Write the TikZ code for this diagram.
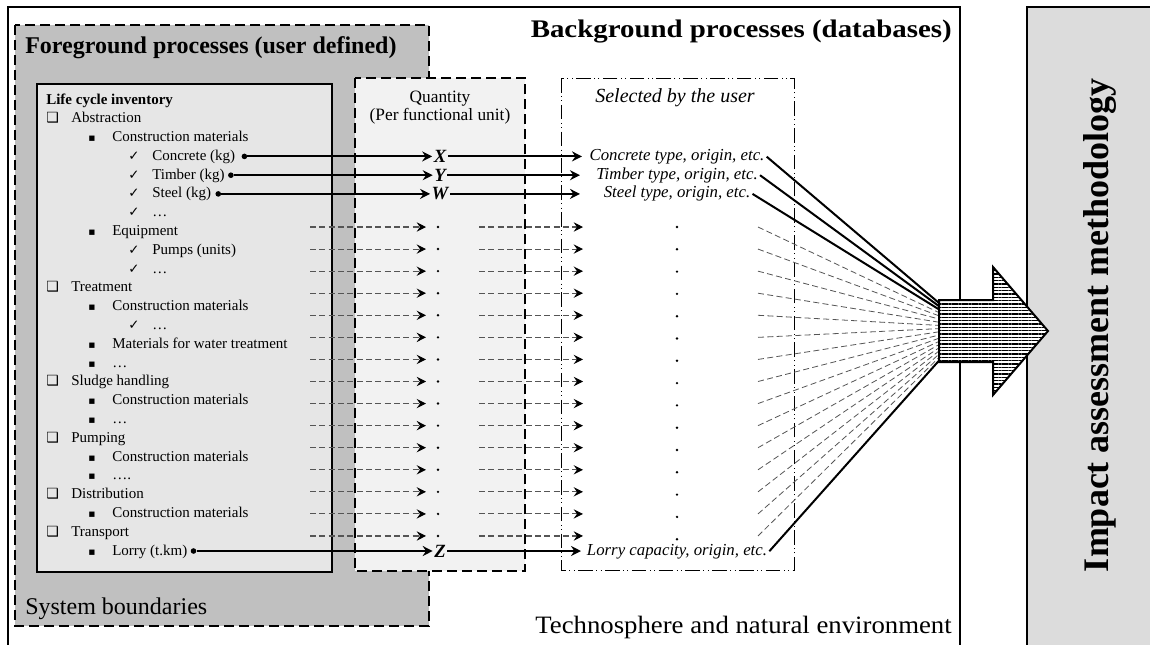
\documentclass[tikz,border=0pt]{standalone}
\usepackage{fontspec}
\usepackage{graphicx}
\setmainfont{Liberation Serif}
\newfontfamily\symf{DejaVu Sans}
\usetikzlibrary{arrows.meta,patterns.meta,calc}
\definecolor{fggray}{HTML}{C0C0C0}
\definecolor{invgray}{HTML}{E6E6E6}
\definecolor{qgray}{HTML}{F2F2F2}
\definecolor{iagray}{HTML}{DCDCDC}
\definecolor{dgray}{HTML}{555555}
\tikzset{
  li/.style={anchor=base west, inner sep=0pt, font=\fontsize{11.25}{13}\selectfont},
  sysq/.style={anchor=base west, inner sep=0pt, font=\symf\fontsize{10.5}{12}\selectfont},
  sybl/.style={anchor=base west, inner sep=0pt, font=\symf\fontsize{8}{10}\selectfont},
  sychk/.style={anchor=base west, inner sep=0pt, font=\symf\fontsize{10}{12}\selectfont},
  bigdot/.style={circle, fill=black, inner sep=0pt, minimum size=4.2pt},
  smalldot/.style={circle, fill=black, inner sep=0pt, minimum size=2pt},
  qvar/.style={font=\bfseries\itshape\fontsize{14}{16}\selectfont, inner sep=1pt},
  seltext/.style={anchor=base, font=\itshape\fontsize{12.6}{14}\selectfont, inner sep=1.5pt},
  solidarr/.style={line width=1.5pt, -{Stealth[length=7.5pt,width=7.5pt,inset=2.5pt]}},
  dasharr/.style={draw=dgray, line width=0.8pt, dash pattern=on 4.5pt off 2.5pt, -{Stealth[length=7pt,width=7pt,inset=2.5pt,color=black]}},
  fansolid/.style={line width=1.5pt},
  fandash/.style={draw=dgray, line width=0.6pt, dash pattern=on 4.5pt off 2.5pt},
  bigdash/.style={line width=1.5pt, dash pattern=on 7.5pt off 3.75pt},
  dashdotdot/.style={line width=0.75pt, dash pattern=on 11pt off 2.5pt on 0.8pt off 2.5pt on 0.8pt off 2.5pt},
}
\begin{document}
\begin{tikzpicture}[x=0.75pt,y=-0.75pt]
\useasboundingbox (0,0) rectangle (1150,644);
\clip (0,0) rectangle (1150,644);
\fill[white] (0,0) rectangle (1150,644);

% outer technosphere box
\draw[line width=1.5pt] (8,7) rectangle (960,690);
% impact assessment box
\fill[iagray] (1027,7) rectangle (1200,700);
\draw[line width=1.5pt] (1200,7) -- (1027,7) -- (1027,700);

% foreground box
\draw[bigdash, fill=fggray] (15,25) rectangle (429,626);
% inventory box
\draw[line width=1.1pt, fill=invgray] (37,84) rectangle (332,572);
% quantity box
\draw[bigdash, fill=qgray] (355,78) rectangle (525,571);
% selected box
\draw[dashdotdot] (561,78) rectangle (794,570);

% titles
\node[anchor=base west, inner sep=0pt, font=\bfseries\fontsize{18}{20}\selectfont] (fgt) at (25,53) {Foreground processes (user defined)};
\node[anchor=base east, inner sep=0pt, font=\bfseries\fontsize{19}{20}\selectfont] (bgt) at (952,37) {\scalebox{1.14}[1]{Background processes (databases)}};
\node[anchor=base west, inner sep=0pt, font=\fontsize{18}{20}\selectfont] (sbt) at (25,614) {System boundaries};
\node[anchor=base east, inner sep=0pt, font=\fontsize{18.75}{20}\selectfont] (tnt) at (952,633) {\scalebox{1.07}[1]{Technosphere and natural environment}};
\node[rotate=90, inner sep=0pt, font=\bfseries\fontsize{27}{30}\selectfont] (iat) at (1100,325) {Impact assessment methodology};
\node[anchor=base, inner sep=0pt, font=\fontsize{13}{14}\selectfont] (qt1) at (440,102) {Quantity};
\node[anchor=base, inner sep=0pt, font=\fontsize{13}{14}\selectfont] (qt2) at (440,120) {(Per functional unit)};
\node[anchor=base, inner sep=0pt, font=\itshape\fontsize{15}{16}\selectfont] (st) at (675,102) {Selected by the user};

% inventory list
\node[li, font=\bfseries\fontsize{11.25}{13}\selectfont] (l1) at (46,104) {Life cycle inventory};
\node[sysq] (s2) at (46,122.8) {❑}; \node[li] (l2) at (71,122.8) {Abstraction};
\node[sybl] (s3) at (88,141.6) {▪}; \node[li] (l3) at (112,141.6) {Construction materials};
\node[sychk] (s4) at (128,160.4) {✓}; \node[li] (l4) at (152,160.4) {Concrete (kg)};
\node[sychk] (s5) at (128,179.2) {✓}; \node[li] (l5) at (152,179.2) {Timber (kg)};
\node[sychk] (s6) at (128,197.9) {✓}; \node[li] (l6) at (152,197.9) {Steel (kg)};
\node[sychk] (s7) at (128,216.7) {✓}; \node[li] (l7) at (152,216.7) {…};
\node[sybl] (s8) at (88,235.5) {▪}; \node[li] (l8) at (112,235.5) {Equipment};
\node[sychk] (s9) at (128,254.3) {✓}; \node[li] (l9) at (152,254.3) {Pumps (units)};
\node[sychk] (s10) at (128,273.1) {✓}; \node[li] (l10) at (152,273.1) {…};
\node[sysq] (s11) at (46,291.9) {❑}; \node[li] (l11) at (71,291.9) {Treatment};
\node[sybl] (s12) at (88,310.7) {▪}; \node[li] (l12) at (112,310.7) {Construction materials};
\node[sychk] (s13) at (128,329.5) {✓}; \node[li] (l13) at (152,329.5) {…};
\node[sybl] (s14) at (88,348.3) {▪}; \node[li] (l14) at (112,348.3) {Materials for water treatment};
\node[sybl] (s15) at (88,367.1) {▪}; \node[li] (l15) at (112,367.1) {…};
\node[sysq] (s16) at (46,385.9) {❑}; \node[li] (l16) at (71,385.9) {Sludge handling};
\node[sybl] (s17) at (88,404.6) {▪}; \node[li] (l17) at (112,404.6) {Construction materials};
\node[sybl] (s18) at (88,423.4) {▪}; \node[li] (l18) at (112,423.4) {…};
\node[sysq] (s19) at (46,442.2) {❑}; \node[li] (l19) at (71,442.2) {Pumping};
\node[sybl] (s20) at (88,461.0) {▪}; \node[li] (l20) at (112,461.0) {Construction materials};
\node[sybl] (s21) at (88,479.8) {▪}; \node[li] (l21) at (112,479.8) {….};
\node[sysq] (s22) at (46,498.6) {❑}; \node[li] (l22) at (71,498.6) {Distribution};
\node[sybl] (s23) at (88,517.4) {▪}; \node[li] (l23) at (112,517.4) {Construction materials};
\node[sysq] (s24) at (46,536.2) {❑}; \node[li] (l24) at (71,536.2) {Transport};
\node[sybl] (s25) at (88,555.0) {▪}; \node[li] (l25) at (112,555.0) {Lorry (t.km)};

% source dots
\node[bigdot] (d4) at ($(l4.base east)+(9,-4)$) {};
\node[bigdot] (d5) at ($(l5.base east)+(6,-4)$) {};
\node[bigdot] (d6) at ($(l6.base east)+(7,-4)$) {};
\node[bigdot] (d25) at ($(l25.base east)+(6,-4)$) {};

% quantity variables
\node[qvar] (qx) at (440,156.4) {X};
\node[qvar] (qy) at (440,175.2) {Y};
\node[qvar] (qw) at (440,193.9) {W};
\node[qvar] (qz) at (440,551.0) {Z};

% selected texts
\node[seltext] (c1) at (677,160.4) {Concrete type, origin, etc.};
\node[seltext] (c2) at (677,179.2) {Timber type, origin, etc.};
\node[seltext] (c3) at (677,197.9) {Steel type, origin, etc.};
\node[seltext] (c4) at (677,555.0) {Lorry capacity, origin, etc.};

\coordinate (e1) at (582,156.4);
\coordinate (e2) at (580,175.2);
\coordinate (e3) at (580,193.9);
\coordinate (e4) at (581,551.0);

\draw[solidarr] (d4) -- (d4 -| qx.west);
\draw[solidarr] (d5) -- (d5 -| qy.west);
\draw[solidarr] (d6) -- (d6 -| qw.west);
\draw[solidarr] (d25) -- (d25 -| qz.west);
\draw[solidarr] (qx.east) -- (e1);
\draw[solidarr] (qy.east) -- (e2);
\draw[solidarr] (qw.east) -- (e3);
\draw[solidarr] (qz.east) -- (e4);

% fan end points on the arrow
\foreach \i in {0,...,18}{
  \pgfmathsetmacro\mye{303+3.2*\i}
  \coordinate (f\i) at (939,\mye);
}
\draw[fansolid] (c1.east) -- (f0);
\draw[fansolid] (c2.east) -- (f1);
\draw[fansolid] (c3.east) -- (f2);
\draw[fansolid] (c4.east) -- (f18);

% dashed rows
\foreach \k in {0,...,14}{
  \pgfmathsetmacro\myy{227+22.07*\k}
  \pgfmathsetmacro\myd{227+22.3*\k}
  \pgfmathtruncatemacro\myf{\k+3}
  \coordinate (la\k) at (310,\myy);
  \coordinate (lb\k) at (426,\myy);
  \node[smalldot] (qd\k) at (438,\myy) {};
  \coordinate (ma\k) at (479,\myy);
  \coordinate (mb\k) at (583,\myy);
  \node[smalldot] (sd\k) at (677,\myd) {};
  \coordinate (fs\k) at (758,\myy);
  \draw[dasharr] (la\k) -- (lb\k);
  \draw[dasharr] (ma\k) -- (mb\k);
  \draw[fandash] (fs\k) -- (f\myf);
}

% hatched block arrow
\draw[line width=1.5pt, fill=white, postaction={pattern={Lines[angle=0,distance=2.5pt,line width=0.9pt]}}]
  (939,300) -- (993,300) -- (993,267) -- (1048,331) -- (993,395) -- (993,362) -- (939,362) -- cycle;
\end{tikzpicture}
\end{document}
